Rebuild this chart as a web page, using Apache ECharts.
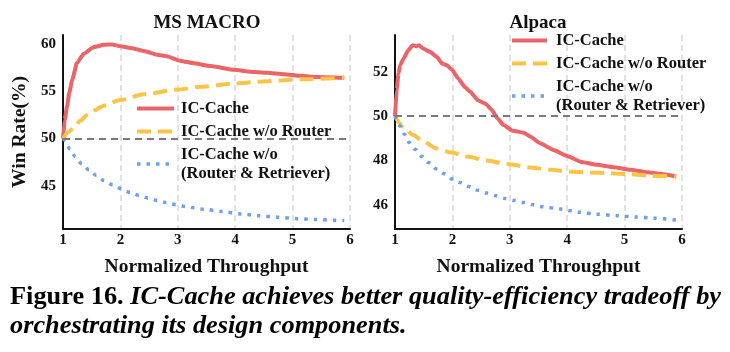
<!DOCTYPE html>
<html>
<head>
<meta charset="utf-8">
<script src="https://cdn.jsdelivr.net/npm/echarts@6/dist/echarts.min.js"></script>
<style>
  html, body { margin: 0; padding: 0; background: #fff; }
  #wrap { position: relative; width: 730px; height: 352px; overflow: hidden; }
  #chart { position: absolute; left: 0; top: 0; width: 730px; height: 352px; }
  .cap {
    position: absolute; left: 10px;
    font-family: "Liberation Serif", "DejaVu Serif", serif;
    font-weight: bold; font-size: 26px; line-height: 1; color: #000;
    white-space: nowrap; transform-origin: 0 0;
  }
  .cap i { font-style: italic; }
</style>
</head>
<body>
<div id="wrap">
  <div id="chart"></div>
  <div class="cap" id="cap1" style="top:283px"><span>Figure 16.</span> <i>IC-Cache achieves better quality-efficiency tradeoff by</i></div>
  <div class="cap" id="cap2" style="top:312px"><i>orchestrating its design components.</i></div>
</div>
<script>
const fontFamily = '"Liberation Serif", "DejaVu Serif", serif';

const seriesNames = ["IC-Cache", "IC-Cache w/o Router", "IC-Cache w/o\n(Router & Retriever)"];
const xTicks = [1, 2, 3, 4, 5, 6];
const msTicks = [45, 50, 55, 60];
const alpacaTicks = [46, 48, 50, 52];

// MS MACRO, [throughput, win rate]
const msIcCache = [
  [1.0, 50], [1.03, 52.0], [1.07, 53.4], [1.11, 54.9], [1.16, 56.2], [1.24, 58.0],
  [1.36, 59.0], [1.53, 59.7], [1.71, 59.96], [1.86, 60.0], [2.0, 59.8], [2.2, 59.6],
  [2.41, 59.3], [2.64, 58.9], [2.81, 58.75], [3.05, 58.25], [3.28, 58.0], [3.57, 57.7],
  [3.98, 57.3], [4.27, 57.1], [4.56, 56.98], [4.85, 56.84], [5.14, 56.66], [5.43, 56.55],
  [5.9, 56.45]
];
const msNoRouter = [
  [1.0, 50], [1.1, 50.7], [1.19, 51.2], [1.3, 51.9], [1.42, 52.5], [1.55, 53.0],
  [1.71, 53.5], [2.0, 54.1], [2.41, 54.7], [2.99, 55.2], [3.4, 55.5], [3.98, 55.85],
  [4.56, 56.1], [5.14, 56.3], [5.9, 56.45]
];
const msNoRouterRetriever = [
  [1.0, 50], [1.04, 49.8], [1.12, 48.9], [1.21, 48.1], [1.33, 47.3], [1.45, 46.7],
  [1.58, 46.1], [1.71, 45.56], [1.86, 45.1], [2.0, 44.7], [2.16, 44.3], [2.32, 43.97],
  [2.48, 43.7], [2.64, 43.44], [2.8, 43.2], [2.96, 43.0], [3.12, 42.8], [3.28, 42.66],
  [3.44, 42.5], [3.77, 42.27], [4.09, 42.0], [4.41, 41.8], [4.73, 41.66], [5.08, 41.5],
  [5.4, 41.4], [5.72, 41.34], [5.9, 41.3]
];

// Alpaca
const alpacaIcCache = [
  [1.0, 50], [1.03, 51.2], [1.06, 51.9], [1.09, 52.3], [1.15, 52.6], [1.23, 52.97],
  [1.31, 53.2], [1.37, 53.15], [1.42, 53.2], [1.49, 53.05], [1.61, 52.9], [1.73, 52.67],
  [1.82, 52.37], [1.9, 52.3], [1.99, 52.1], [2.1, 51.7], [2.22, 51.3], [2.31, 51.1],
  [2.45, 50.7], [2.57, 50.57], [2.69, 50.27], [2.77, 49.94], [2.89, 49.6], [3.05, 49.34],
  [3.24, 49.25], [3.36, 49.07], [3.53, 48.77], [3.76, 48.47], [4.0, 48.2], [4.23, 47.94],
  [4.52, 47.8], [4.81, 47.69], [5.1, 47.57], [5.39, 47.46], [5.68, 47.37], [5.9, 47.27]
];
const alpacaNoRouter = [
  [1.0, 50], [1.14, 49.52], [1.32, 49.14], [1.49, 48.84], [1.73, 48.54], [1.99, 48.35],
  [2.25, 48.17], [2.6, 47.99], [2.95, 47.84], [3.36, 47.68], [3.71, 47.57], [4.05, 47.49],
  [4.4, 47.45], [4.75, 47.42], [5.1, 47.37], [5.45, 47.31], [5.9, 47.27]
];
const alpacaNoRouterRetriever = [
  [1.0, 50], [1.09, 49.55], [1.16, 49.19], [1.25, 48.8], [1.35, 48.5], [1.47, 48.17],
  [1.58, 47.9], [1.72, 47.61], [1.86, 47.39], [1.99, 47.16], [2.13, 47.0], [2.29, 46.82],
  [2.44, 46.65], [2.6, 46.52], [2.76, 46.4], [2.92, 46.28], [3.08, 46.19], [3.24, 46.1],
  [3.4, 46.0], [3.56, 45.91], [3.88, 45.8], [4.2, 45.66], [4.52, 45.57], [4.87, 45.5],
  [5.19, 45.44], [5.51, 45.39], [5.9, 45.3]
];

const colors = ["#eb6468", "#fbc446", "#6e9ff0"];
const lineStyles = [
  { width: 4, type: "solid" },
  { width: 4, type: [14, 7] },
  { width: 3.5, type: [3.5, 6], cap: "butt" }
];

const boldText = (size) => ({ fontFamily, fontWeight: "bold", fontSize: size, color: "#111" });

function boldTextGraphic(size) {
  return { font: `bold ${size}px ${fontFamily}`, fill: "#111" };
}

function makeXAxis(gridIndex) {
  return {
    type: "value",
    gridIndex,
    min: xTicks[0],
    max: xTicks[xTicks.length - 1],
    interval: 1,
    name: "Normalized Throughput",
    nameLocation: "middle",
    nameGap: 28,
    nameTextStyle: boldText(19.5),
    axisLine: { lineStyle: { color: "#111", width: 2 } },
    axisTick: { show: false },
    axisLabel: Object.assign(boldText(15), { margin: 4 }),
    splitLine: { show: true, lineStyle: { color: "#e2e2e2", width: 2, type: [6, 4] } }
  };
}

function makeYAxis(gridIndex, min, max, ticks, name) {
  return {
    type: "value",
    gridIndex,
    min,
    max,
    name,
    nameLocation: "middle",
    nameGap: 33,
    nameTextStyle: boldText(19.5),
    axisLine: { show: true, lineStyle: { color: "#111", width: 2 } },
    axisTick: { show: false },
    axisLabel: Object.assign(boldText(15), { margin: 7, customValues: ticks }),
    splitLine: { show: false }
  };
}

function makeSeries(idx, data, axisIndex) {
  const s = {
    name: seriesNames[idx],
    type: "line",
    xAxisIndex: axisIndex,
    yAxisIndex: axisIndex,
    data,
    symbol: "none",
    smooth: idx === 0 ? 0.15 : 0.3,
    smoothMonotone: "x",
    silent: true,
    itemStyle: { color: colors[idx] },
    lineStyle: Object.assign({ color: colors[idx] }, lineStyles[idx])
  };
  if (idx === 0) {
    s.markLine = {
      silent: true,
      symbol: ["none", "none"],
      label: { show: false },
      lineStyle: { color: "#7a7a7a", width: 2, type: [7, 5] },
      data: [{ yAxis: 50 }]
    };
  }
  return s;
}

function makeLegend(left, top, iconWidth, textGap) {
  return {
    orient: "vertical",
    left,
    top,
    itemWidth: iconWidth,
    itemHeight: 12,
    itemGap: 4,
    selectedMode: false,
    data: seriesNames,
    itemStyle: { color: "transparent", borderColor: "transparent", borderWidth: 0, opacity: 0 },
    lineStyle: { width: "inherit", type: "inherit" },
    textStyle: Object.assign(boldText(16.5), { lineHeight: 19, padding: [0, 0, 0, textGap] })
  };
}

const chart = echarts.init(document.getElementById("chart"), null, { renderer: "canvas" });
chart.setOption({
  animation: false,
  backgroundColor: "#fff",
  graphic: [
    { type: "text", x: 207, y: 23, style: Object.assign({ text: "MS MACRO", align: "center", verticalAlign: "middle" }, boldTextGraphic(19)) },
    { type: "text", x: 538, y: 23, style: Object.assign({ text: "Alpaca", align: "center", verticalAlign: "middle" }, boldTextGraphic(19)) }
  ],
  grid: [
    { left: 63, top: 35, width: 287, height: 194 },
    { left: 395, top: 35, width: 287, height: 194 }
  ],
  legend: [makeLegend(130, 94, 37, 2), makeLegend(505, 26, 35, 4)],
  xAxis: [makeXAxis(0), makeXAxis(1)],
  yAxis: [
    makeYAxis(0, 40.4, 61, msTicks, "Win Rate(%)"),
    makeYAxis(1, 44.9, 53.66, alpacaTicks, "")
  ],
  series: [
    makeSeries(0, msIcCache, 0),
    makeSeries(1, msNoRouter, 0),
    makeSeries(2, msNoRouterRetriever, 0),
    makeSeries(0, alpacaIcCache, 1),
    makeSeries(1, alpacaNoRouter, 1),
    makeSeries(2, alpacaNoRouterRetriever, 1)
  ]
});

// fit the first caption line to the original's width
const cap1 = document.getElementById("cap1");
const cap2 = document.getElementById("cap2");
const scale = 711 / cap1.getBoundingClientRect().width;
cap1.style.transform = `scaleX(${scale})`;
cap2.style.transform = `scaleX(${scale})`;
</script>
</body>
</html>
